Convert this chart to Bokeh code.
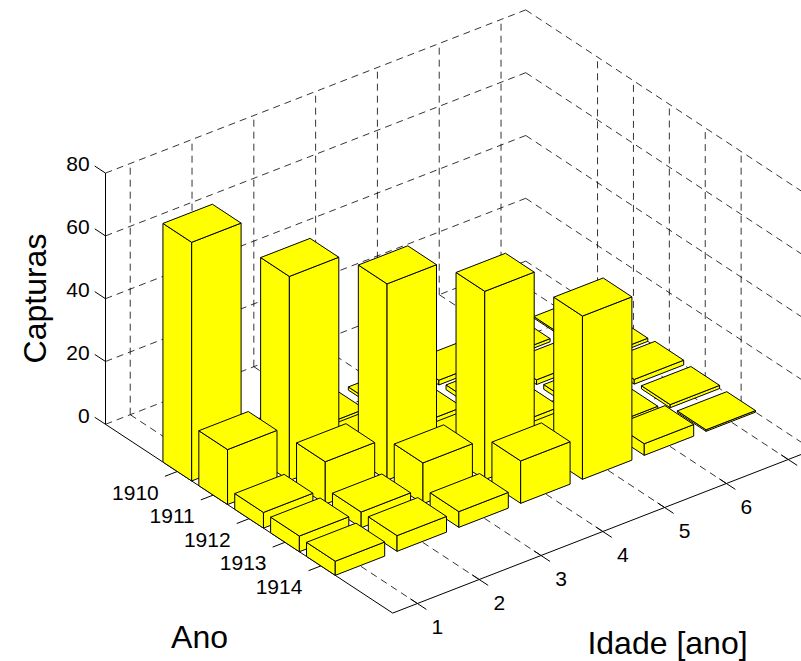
import numpy as np
from bokeh.plotting import figure
from bokeh.models import Range1d
from bokeh.embed import file_html
from bokeh.resources import INLINE
from bokeh.core.properties import value

# ---------------- data ----------------
idade = [1, 2, 3, 4, 5, 6, 7]            # Idade [ano]
anos = [1910, 1911, 1912, 1913, 1914]    # Ano
# capturas[row=ano][col=idade]
cap_1910 = [76.0, 2.0, 1.5, 1.0, 1.5, 1.0, 0.5]
cap_1911 = [17.5, 65.0, 3.0, 2.0, 1.5, 1.5, 1.0]
cap_1912 = [5.0, 13.5, 62.5, 3.0, 2.0, 1.5, 1.5]
cap_1913 = [5.0, 5.0, 13.0, 60.0, 3.0, 2.0, 1.0]
cap_1914 = [4.5, 5.0, 5.0, 13.5, 52.0, 3.7, 0.5]
capturas = [cap_1910, cap_1911, cap_1912, cap_1913, cap_1914]
z_ticks = [0, 20, 40, 60, 80]

# axis limits (as MATLAB bar3 produced them)
XLIM = (0.6, 7.4)
YLIM = (1908.0, 1916.0)
ZLIM = (0.0, 80.0)
BAR_W = 0.8

# ---------------- projection (orthographic, page pixels) ----------------
W, H = 801, 661
O = (105.0, 423.8)        # screen position of (XLIM0, YLIM0, 0)
U = (61.8, -24.0)         # per unit of idade
V = (35.9, 23.6)          # per unit of ano
ZS = 3.14                 # pixels per unit of capturas


def P(i, j, z):
    X = O[0] + (i - XLIM[0]) * U[0] + (j - YLIM[0]) * V[0]
    Y = O[1] + (i - XLIM[0]) * U[1] + (j - YLIM[0]) * V[1] - z * ZS
    return X, H - Y


def seg(a, b):
    pa, pb = P(*a), P(*b)
    return [pa[0], pb[0]], [pa[1], pb[1]]


p = figure(width=W, height=H, x_range=Range1d(0, W), y_range=Range1d(0, H),
           output_backend="svg", toolbar_location=None,
           x_axis_location=None, y_axis_location=None, min_border=0)
p.grid.visible = False
p.outline_line_color = None
p.background_fill_color = "white"

# ---------------- dashed grid ----------------
gx, gy = [], []
# floor
for i in idade:
    xs, ys = seg((i, YLIM[0], 0), (i, YLIM[1], 0)); gx.append(xs); gy.append(ys)
for j in anos:
    xs, ys = seg((XLIM[0], j, 0), (XLIM[1], j, 0)); gx.append(xs); gy.append(ys)
# back wall at ano = YLIM0
for i in idade:
    xs, ys = seg((i, YLIM[0], ZLIM[0]), (i, YLIM[0], ZLIM[1])); gx.append(xs); gy.append(ys)
for z in z_ticks:
    xs, ys = seg((XLIM[0], YLIM[0], z), (XLIM[1], YLIM[0], z)); gx.append(xs); gy.append(ys)
# back wall at idade = XLIM1
for j in anos:
    xs, ys = seg((XLIM[1], j, ZLIM[0]), (XLIM[1], j, ZLIM[1])); gx.append(xs); gy.append(ys)
for z in z_ticks:
    xs, ys = seg((XLIM[1], YLIM[0], z), (XLIM[1], YLIM[1], z)); gx.append(xs); gy.append(ys)
p.multi_line(gx, gy, line_color="black", line_width=0.8, line_dash="7 5")

# ---------------- axis lines and ticks ----------------
ax, ay = [], []
for a, b in [((XLIM[0], YLIM[0], ZLIM[0]), (XLIM[0], YLIM[0], ZLIM[1])),
             ((XLIM[0], YLIM[0], 0), (XLIM[0], YLIM[1], 0)),
             ((XLIM[0], YLIM[1], 0), (XLIM[1], YLIM[1], 0))]:
    xs, ys = seg(a, b); ax.append(xs); ay.append(ys)
for z in z_ticks:
    xs, ys = seg((XLIM[0], YLIM[0], z), (XLIM[0], YLIM[0] - 0.3, z)); ax.append(xs); ay.append(ys)
for j in anos:
    xs, ys = seg((XLIM[0], j, 0), (XLIM[0] - 0.2, j, 0)); ax.append(xs); ay.append(ys)
for i in idade:
    xs, ys = seg((i, YLIM[1] - 0.2, 0), (i, YLIM[1] + 0.25, 0)); ax.append(xs); ay.append(ys)
p.multi_line(ax, ay, line_color="black", line_width=1)

# ---------------- bars (painter's order) ----------------
bars = []
for r, j in enumerate(anos):
    for c, i in enumerate(idade):
        bars.append((j, -i, i, capturas[r][c]))
bars.sort()
fx, fy = [], []
hw = BAR_W / 2
for j, _, i, h in bars:
    x0, x1, y0, y1 = i - hw, i + hw, j - hw, j + hw
    faces = [
        [(x0, y0, 0), (x0, y1, 0), (x0, y1, h), (x0, y0, h)],   # left
        [(x0, y1, 0), (x1, y1, 0), (x1, y1, h), (x0, y1, h)],   # front
        [(x0, y0, h), (x0, y1, h), (x1, y1, h), (x1, y0, h)],   # top
    ]
    for f in faces:
        pts = [P(*q) for q in f]
        fx.append([q[0] for q in pts]); fy.append([q[1] for q in pts])
p.patches(fx, fy, fill_color="#FFFF00", line_color="black", line_width=1,
          line_join="miter")

# ---------------- tick labels ----------------
FONT = value("Liberation Sans")
zx, zy, zt = [], [], []
for z in z_ticks:
    px, py = P(XLIM[0], YLIM[0] - 0.3, z)
    zx.append(px - 5); zy.append(py + 1.7); zt.append(str(z))
p.text(zx, zy, text=zt, text_font=FONT, text_font_size="21px",
       text_align="right", text_baseline="middle", text_color="black")

yx, yy, yt = [], [], []
for j in anos:
    px, py = P(XLIM[0], j, 0)
    yx.append(px - 18.5); yy.append(py - 21); yt.append(str(j))
p.text(yx, yy, text=yt, text_font=FONT, text_font_size="21px",
       text_align="right", text_baseline="middle", text_color="black")

xx, xy, xt = [], [], []
for i in idade:
    px, py = P(i, YLIM[1], 0)
    if px + 20 < W - 8:
        xx.append(px + 20); xy.append(py - 23); xt.append(str(i))
p.text(xx, xy, text=xt, text_font=FONT, text_font_size="21px",
       text_align="center", text_baseline="middle", text_color="black")

# ---------------- axis titles ----------------
p.text([34], [H - 298], text=["Capturas"], text_font=FONT, text_font_size="32px",
       text_align="center", text_baseline="middle", angle=np.pi / 2, text_color="black")
p.text([199], [H - 636], text=["Ano"], text_font=FONT, text_font_size="32px",
       text_align="center", text_baseline="middle", text_color="black")
p.text([667], [H - 642], text=["Idade [ano]"], text_font=FONT, text_font_size="32px",
       text_align="center", text_baseline="middle", text_color="black")

open("out.html", "w").write(file_html(p, INLINE))
